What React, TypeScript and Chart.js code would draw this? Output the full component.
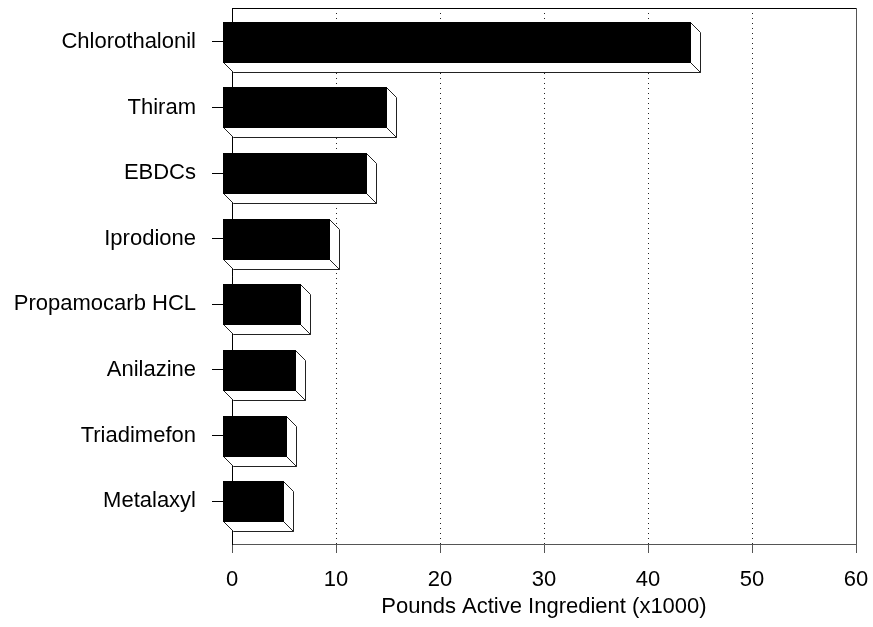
import React, { useEffect, useRef } from 'react';
import { Chart, registerables, CategoryScale } from 'chart.js';

Chart.register(...registerables);

const categories = [
  'Chlorothalonil',
  'Thiram',
  'EBDCs',
  'Iprodione',
  'Propamocarb HCL',
  'Anilazine',
  'Triadimefon',
  'Metalaxyl',
];
const poundsActive = [45.0, 15.8, 13.8, 10.3, 7.5, 7.0, 6.2, 5.9];
const xTickValues = [0, 10, 20, 30, 40, 50, 60];
const axisTitle = 'Pounds Active Ingredient (x1000)';

const DEPTH = 10;
const FONT = "'Liberation Sans', Arial, sans-serif";

class FrontCategoryScale extends (CategoryScale as any) {
  static id = 'frontCategory';
  static defaults = (CategoryScale as any).defaults;
  configure() {
    super.configure();
    if (!this.isHorizontal()) {
      this._startPixel = this.top + 1;
      this._endPixel = this.bottom - DEPTH;
      this._length = this._endPixel - this._startPixel;
    }
  }
}
Chart.register(FrontCategoryScale as any);

const frame3dPlugin = {
  id: 'frame3d',
  beforeDatasetsDraw(chart: any) {
    const { ctx, chartArea } = chart;
    ctx.save();
    ctx.strokeStyle = '#000';
    ctx.lineWidth = 1;
    ctx.beginPath();
    ctx.moveTo(chartArea.left, Math.round(chartArea.top) + 0.5);
    ctx.lineTo(chartArea.right, Math.round(chartArea.top) + 0.5);
    ctx.stroke();
    ctx.restore();
  },
  afterDatasetsDraw(chart: any) {
    const { ctx } = chart;
    const meta = chart.getDatasetMeta(0);
    ctx.save();
    ctx.lineWidth = 1;
    ctx.lineJoin = 'miter';
    meta.data.forEach((el: any) => {
      const p = el.getProps(['x', 'y', 'base', 'height'], true);
      const l = Math.round(p.base - DEPTH) + 0.5;
      const r = Math.round(p.x - DEPTH) + 0.5;
      const t = Math.round(p.y - p.height / 2) + 0.5;
      const b = Math.round(p.y + p.height / 2) + 0.5;
      ctx.strokeStyle = '#222';
      ctx.fillStyle = '#fff';
      // bottom face
      ctx.beginPath();
      ctx.moveTo(l, b);
      ctx.lineTo(r, b);
      ctx.lineTo(r + DEPTH, b + DEPTH);
      ctx.lineTo(l + DEPTH, b + DEPTH);
      ctx.closePath();
      ctx.fill();
      ctx.stroke();
      // right face
      ctx.beginPath();
      ctx.moveTo(r, t);
      ctx.lineTo(r + DEPTH, t + DEPTH);
      ctx.lineTo(r + DEPTH, b + DEPTH);
      ctx.lineTo(r, b);
      ctx.closePath();
      ctx.fill();
      ctx.stroke();
      // front face
      ctx.fillStyle = '#000';
      ctx.fillRect(l - 0.5, t - 0.5, r - l + 1, b - t + 1);
    });
    ctx.restore();
  },
};

export default function App() {
  const ref = useRef<HTMLCanvasElement | null>(null);
  useEffect(() => {
    if (!ref.current) return;
    const chart = new Chart(ref.current, {
      type: 'bar',
      data: {
        labels: categories,
        datasets: [
          {
            data: poundsActive,
            backgroundColor: 'rgba(0,0,0,0)',
            borderWidth: 0,
            barThickness: 40,
          },
        ],
      },
      options: {
        indexAxis: 'y',
        animation: false,
        responsive: false,
        events: [],
        layout: { padding: { top: 8, right: 17, left: 0, bottom: 0 } },
        plugins: { legend: { display: false }, tooltip: { enabled: false } },
        font: { family: FONT },
        scales: {
          x: {
            type: 'linear',
            min: 0,
            max: 60,
            afterBuildTicks: (s: any) => {
              s.ticks = xTickValues.map((v) => ({ value: v }));
            },
            afterFit: (s: any) => {
              s.height = 83;
              s.paddingLeft = 0;
              s.paddingRight = 0;
            },
            ticks: {
              color: '#000',
              font: { family: FONT, size: 22 },
              padding: 14,
              maxRotation: 0,
            },
            grid: {
              color: (c: any) => (c.tick && c.tick.value % 60 === 0 ? '#555' : '#222'),
              lineWidth: 1,
              tickLength: 9,
              tickColor: '#555',
              tickWidth: 1,
            },
            border: {
              display: true,
              color: '#555',
              width: 1,
              dash: (c: any) => (c.tick && c.tick.value % 60 !== 0 ? [1, 4] : []),
            },
            title: {
              display: true,
              text: axisTitle,
              color: '#000',
              font: { family: FONT, size: 22 },
              padding: { top: 0, bottom: 7 },
            },
          },
          y: {
            type: 'frontCategory' as any,
            offset: true,
            afterFit: (s: any) => {
              s.width = 232;
              s.paddingTop = 0;
              s.paddingBottom = 0;
            },
            ticks: {
              color: '#000',
              font: { family: FONT, size: 22 },
              padding: 16,
            },
            grid: {
              offset: false,
              drawOnChartArea: false,
              drawTicks: true,
              tickLength: 20,
              tickColor: '#000',
            },
            border: { display: true, color: '#000', width: 1 },
          },
        },
      } as any,
      plugins: [frame3dPlugin],
    });
    return () => chart.destroy();
  }, []);
  return (
    <div style={{ position: 'fixed', left: 0, top: 0, width: 873, height: 627, background: '#fff' }}>
      <canvas ref={ref} width={873} height={627} style={{ display: 'block' }} />
    </div>
  );
}
